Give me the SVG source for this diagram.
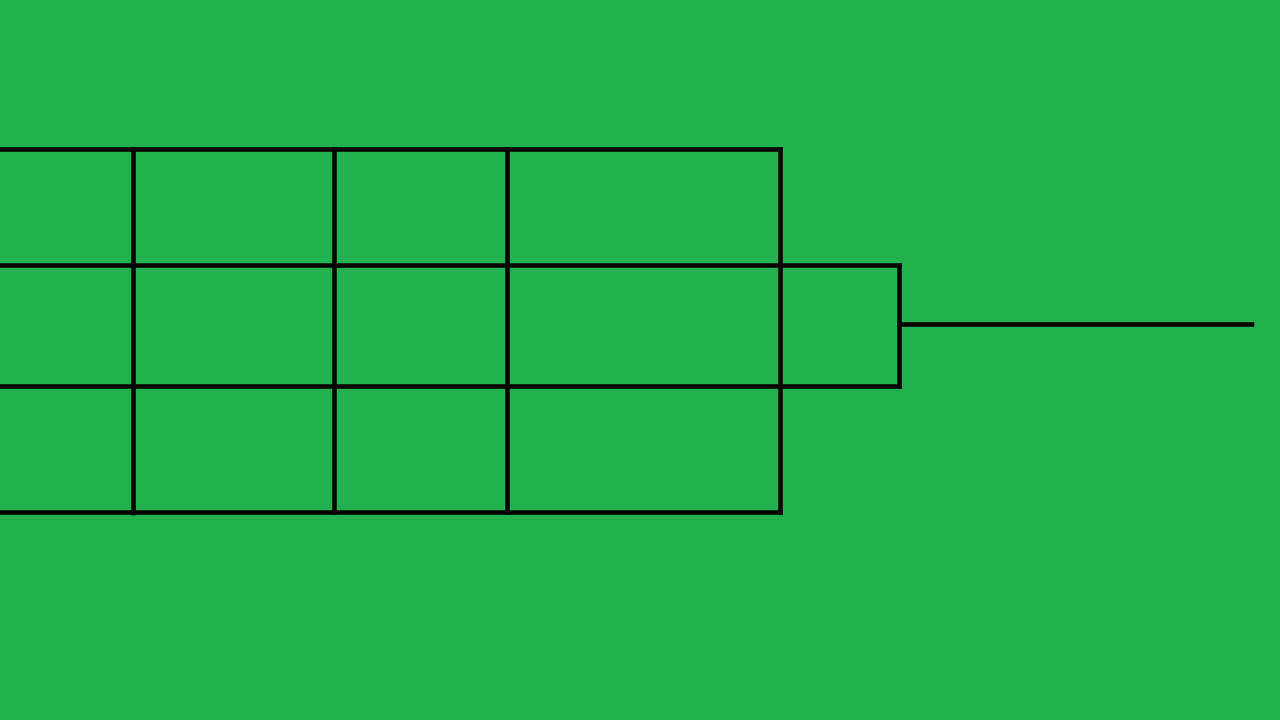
<svg xmlns="http://www.w3.org/2000/svg" width="1280" height="720" viewBox="0 0 1280 720">
<style>
.l{stroke:#000;stroke-width:4.5;stroke-linecap:square;fill:none}
</style>
<rect width="1280" height="720" fill="#22B14C"/>
<g id="grid">
<line class="l" x1="0" y1="149.5" x2="780.5" y2="149.5"/>
<line class="l" x1="2" y1="265.5" x2="899.5" y2="265.5"/>
<line class="l" x1="0" y1="386.5" x2="899.5" y2="386.5"/>
<line class="l" x1="2" y1="512.5" x2="780.5" y2="512.5"/>
<line class="l" x1="133.5" y1="149.5" x2="133.5" y2="513"/>
<line class="l" x1="334.5" y1="149.5" x2="334.5" y2="512.5"/>
<line class="l" x1="507.5" y1="149.5" x2="507.5" y2="512.5"/>
<line class="l" x1="780.5" y1="149.5" x2="780.5" y2="512.5"/>
</g>
<g id="connectors">
<line class="l" x1="899.5" y1="265.5" x2="899.5" y2="386.5"/>
<line class="l" x1="899.5" y1="324.5" x2="1252" y2="324.5"/>
</g>
</svg>
